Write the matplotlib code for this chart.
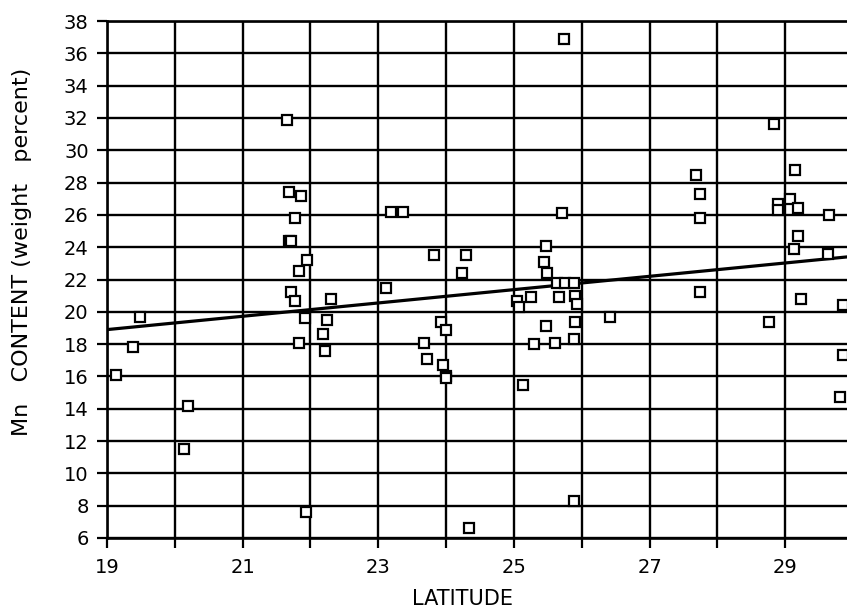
import matplotlib
matplotlib.use("Agg")
import matplotlib.pyplot as plt
import numpy as np

# Sample latitudes (degrees) and Mn content (weight percent)
latitude = [
    19.13, 19.38, 19.48, 20.13, 20.19,
    21.65, 21.69, 21.86, 21.77, 21.69, 21.71, 21.95, 21.83, 21.71, 21.77,
    21.92, 21.83, 21.93, 22.30, 22.25, 22.18, 22.21,
    23.18, 23.36, 23.12, 23.82, 23.68, 23.72, 23.92, 24.00, 23.95, 24.00,
    24.00, 24.24, 24.29, 24.34,
    25.05, 25.08, 25.25, 25.13, 25.29, 25.47, 25.45, 25.49, 25.47, 25.61,
    25.63, 25.66, 25.71, 25.74, 25.75, 25.88, 25.90, 25.93, 25.90, 25.89,
    25.89, 26.42,
    27.69, 27.74, 27.74, 27.75,
    28.76, 28.83, 28.90, 28.90, 29.07, 29.14, 29.19, 29.19, 29.13, 29.23,
    29.63, 29.64, 29.85, 29.85, 29.81,
]
mn_content = [
    16.1, 17.8, 19.7, 11.5, 14.2,
    31.9, 27.4, 27.2, 25.8, 24.4, 24.4, 23.2, 22.5, 21.2, 20.7,
    19.6, 18.1, 7.6, 20.8, 19.5, 18.6, 17.6,
    26.2, 26.2, 21.5, 23.5, 18.1, 17.1, 19.4, 18.9, 16.7, 16.0,
    15.9, 22.4, 23.5, 6.6,
    20.7, 20.3, 20.9, 15.5, 18.0, 24.1, 23.1, 22.4, 19.1, 18.1,
    21.8, 20.9, 26.1, 36.9, 21.8, 21.8, 21.0, 20.5, 19.4, 18.3,
    8.3, 19.7,
    28.5, 27.3, 25.8, 21.2,
    19.4, 31.6, 26.7, 26.3, 27.0, 28.8, 26.4, 24.7, 23.9, 20.8,
    23.6, 26.0, 20.4, 17.3, 14.7,
]

# Least-squares trend line end points
trend_lat = [19.0, 29.91]
trend_mn = [18.9, 23.4]

x_ticks = np.arange(19, 30, 1)
x_labels = ["19", "", "21", "", "23", "", "25", "", "27", "", "29"]
y_ticks = np.arange(6, 39, 2)

fig = plt.figure(figsize=(8.47, 6.11), dpi=100)
ax = fig.add_axes([0.1263, 0.1195, 0.8737, 0.846])

ax.set_xlim(19, 29.91)
ax.set_ylim(6, 38)

ax.set_xticks(x_ticks)
ax.set_xticklabels(x_labels)
ax.set_yticks(y_ticks)

ax.grid(True, color="black", linewidth=1.7)
ax.set_axisbelow(True)

ax.spines["right"].set_visible(False)
for side in ("left", "bottom", "top"):
    ax.spines[side].set_linewidth(1.9)

ax.tick_params(axis="both", direction="out", length=7.2, width=1.6,
               labelsize=14)
ax.tick_params(axis="y", pad=6)
ax.tick_params(axis="x", pad=7)

ax.plot(trend_lat, trend_mn, color="black", linewidth=2.3, zorder=3)
ax.plot(latitude, mn_content, linestyle="none", marker="s", markersize=7,
        markerfacecolor="white", markeredgecolor="black",
        markeredgewidth=1.6, zorder=4, clip_on=False)

ax.set_xlabel("LATITUDE", fontsize=15)
ax.xaxis.set_label_coords(0.481, -0.098)
ax.set_ylabel("Mn   CONTENT (weight   percent)", fontsize=16)
ax.yaxis.set_label_coords(-0.101, 0.553)

fig.savefig("out.png", dpi=100)
